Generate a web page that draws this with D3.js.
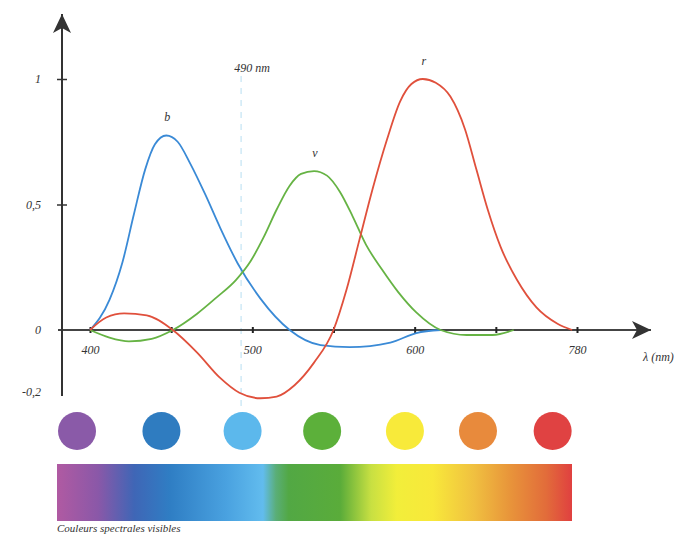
<!DOCTYPE html>
<html>
<head>
<meta charset="utf-8">
<script src="https://cdn.jsdelivr.net/npm/d3@7"></script>
<style>
  body { margin: 0; background: #fff; }
  svg { display: block; }
  text { font-family: "Liberation Serif", "Times New Roman", serif; font-style: italic; fill: #333; }
</style>
</head>
<body>
<svg id="chart" width="684" height="536"></svg>
<script>
// wavelengths (nm) and relative values
const blueNm  = [400, 412, 420, 427, 434, 440, 447, 454, 462, 471, 480, 491, 505, 523, 542, 560, 585, 601, 616];
const blueVal = [0, 0.12, 0.27, 0.46, 0.64, 0.74, 0.775, 0.75, 0.66, 0.54, 0.41, 0.265, 0.125, 0, -0.06, -0.068, -0.05, -0.012, 0];

const greenNm  = [400, 412, 424, 438, 451, 466, 478, 490, 499, 507, 515, 523, 530, 538, 546, 554, 562, 570, 580, 590, 601, 616, 632, 648, 661];
const greenVal = [0, -0.03, -0.045, -0.035, 0, 0.065, 0.13, 0.2, 0.275, 0.37, 0.48, 0.575, 0.622, 0.633, 0.615, 0.55, 0.45, 0.34, 0.24, 0.15, 0.07, 0, -0.02, -0.02, 0];

const redNm  = [400, 410, 421, 435, 451, 466, 480, 492, 505, 515, 526, 538, 550, 558, 566, 574, 583, 591, 598, 605, 613, 622, 631, 638, 645, 653, 663, 675, 688, 697];
const redVal = [0, 0.05, 0.066, 0.058, 0, -0.09, -0.19, -0.25, -0.272, -0.265, -0.22, -0.13, 0, 0.16, 0.36, 0.56, 0.76, 0.91, 0.98, 1.0, 0.985, 0.93, 0.8, 0.64, 0.48, 0.33, 0.2, 0.09, 0.025, 0];

const curveNames  = ["b", "v", "r"];
const curveColors = ["#3a8ad6", "#66b344", "#e0503c"];

const xTicks      = [400, 450, 500, 550, 600, 650, 700];
const xTickLabels = ["400", "", "500", "", "600", "", "780"];
const yTicks      = [1, 0.5, 0, -0.2];
const yTickLabels = ["1", "0,5", "0", "-0,2"];

const markerNm = 490;

const dotNm     = [392, 444, 494, 543, 594, 639, 685];
const dotColors = ["#8a5aa8", "#2f7cc0", "#5cb8ec", "#5cb03a", "#f8ea3a", "#e88a3c", "#e04242"];

const spectrumOffsets = [0, 0.08, 0.15, 0.22, 0.33, 0.40, 0.425, 0.45, 0.55, 0.61, 0.66, 0.73, 0.81, 0.88, 0.95, 1];
const spectrumColors  = ["#b05aa2", "#8a58a8", "#3f66b6", "#2f7ec4", "#4aa2e0", "#62bcee", "#5aae78", "#52a844",
                         "#5aac3a", "#c8e042", "#f2ee3a", "#f8e83a", "#f0c040", "#e8943a", "#e26c3a", "#e04040"];

const svg = d3.select("#chart");

const x = d3.scaleLinear().domain([400, 700]).range([90, 577]);
const y = d3.scaleLinear().domain([0, 1]).range([330, 79]);
const x0 = 62;      // y axis position
const y0 = y(0);

// arrow heads
const defs = svg.append("defs");
defs.append("marker")
    .attr("id", "arrow")
    .attr("markerUnits", "userSpaceOnUse")
    .attr("viewBox", "-20 -10 22 20")
    .attr("refX", 0).attr("refY", 0)
    .attr("markerWidth", 22).attr("markerHeight", 20)
    .attr("orient", "auto")
    .append("path")
    .attr("d", "M0,0 L-19,-9 L-14,0 L-19,9 Z")
    .attr("fill", "#333");

const grad = defs.append("linearGradient").attr("id", "spectrum")
    .attr("x1", "0%").attr("x2", "100%").attr("y1", "0%").attr("y2", "0%");
grad.selectAll("stop")
    .data(spectrumOffsets)
    .enter()
    .append("stop")
    .attr("offset", d => d)
    .attr("stop-color", (d, i) => spectrumColors[i]);

// 490 nm marker line
svg.append("line")
    .attr("x1", x(markerNm) + 5).attr("x2", x(markerNm) + 5)
    .attr("y1", 76).attr("y2", 418)
    .attr("stroke", "#c4e4f4")
    .attr("stroke-width", 1.2)
    .attr("stroke-dasharray", "6,6");
svg.append("text")
    .attr("x", x(markerNm) + 16).attr("y", 72)
    .attr("text-anchor", "middle")
    .attr("font-size", 12)
    .text(markerNm + " nm");

// axes lines with arrows
svg.append("line")
    .attr("x1", 58).attr("y1", y0).attr("x2", 651).attr("y2", y0)
    .attr("stroke", "#444").attr("stroke-width", 2)
    .attr("marker-end", "url(#arrow)");
svg.append("line")
    .attr("x1", x0).attr("y1", 396).attr("x2", x0).attr("y2", 14)
    .attr("stroke", "#333").attr("stroke-width", 2)
    .attr("marker-end", "url(#arrow)");

// x axis ticks and labels
const xAxis = d3.axisBottom(x)
    .tickValues(xTicks)
    .tickSize(6)
    .tickPadding(12)
    .tickFormat((d, i) => xTickLabels[i]);
const gx = svg.append("g")
    .attr("transform", "translate(0," + (y0 - 3) + ")")
    .call(xAxis);
gx.select(".domain").remove();
gx.selectAll(".tick line").attr("stroke", "#222").attr("stroke-width", 2);
gx.selectAll(".tick text")
    .attr("font-family", "Liberation Serif, Times New Roman, serif")
    .attr("font-size", 12)
    .style("font-style", "italic")
    .attr("fill", "#333");

// y axis ticks and labels
const yAxis = d3.axisLeft(y)
    .tickValues(yTicks)
    .tickSize(10)
    .tickPadding(16)
    .tickFormat((d, i) => yTickLabels[i]);
const gy = svg.append("g")
    .attr("transform", "translate(" + (x0 + 5) + ",0)")
    .call(yAxis);
gy.select(".domain").remove();
gy.selectAll(".tick line")
    .attr("stroke", "#333").attr("stroke-width", 1.5)
    .attr("opacity", d => (d === 0.5 || d === 1) ? 1 : 0);
gy.selectAll(".tick text")
    .attr("font-family", "Liberation Serif, Times New Roman, serif")
    .attr("font-size", 12)
    .style("font-style", "italic")
    .attr("fill", "#333")
    .attr("dy", d => d < 0 ? "1.3em" : "0.32em");

svg.append("text")
    .attr("x", 643).attr("y", 361)
    .attr("font-size", 12)
    .text("λ (nm)");

// curves
const series = [
    blueNm.map((d, i) => [d, blueVal[i]]),
    greenNm.map((d, i) => [d, greenVal[i]]),
    redNm.map((d, i) => [d, redVal[i]])
];

const line = d3.line()
    .x(d => x(d[0]))
    .y(d => y(d[1]))
    .curve(d3.curveMonotoneX);

svg.append("g")
    .selectAll("path")
    .data(series)
    .enter()
    .append("path")
    .attr("d", line)
    .attr("fill", "none")
    .attr("stroke", (d, i) => curveColors[i])
    .attr("stroke-width", 1.8);

svg.append("g")
    .selectAll("text")
    .data(series)
    .enter()
    .append("text")
    .each(function (d, i) {
        const peak = d3.greatest(d, p => p[1]);
        d3.select(this)
            .attr("x", x(peak[0]) + 1)
            .attr("y", y(peak[1]) - 14)
            .attr("text-anchor", "middle")
            .attr("font-size", 12)
            .text(curveNames[i]);
    });

// colour dots
svg.append("g")
    .selectAll("circle")
    .data(dotNm)
    .enter()
    .append("circle")
    .attr("cx", d => x(d))
    .attr("cy", 431)
    .attr("r", 19)
    .attr("fill", (d, i) => dotColors[i]);

// spectrum bar
svg.append("rect")
    .attr("x", 57).attr("y", 464)
    .attr("width", 515).attr("height", 57)
    .attr("fill", "url(#spectrum)");

svg.append("text")
    .attr("x", 57).attr("y", 532)
    .attr("font-size", 11)
    .text("Couleurs spectrales visibles");
</script>
</body>
</html>
